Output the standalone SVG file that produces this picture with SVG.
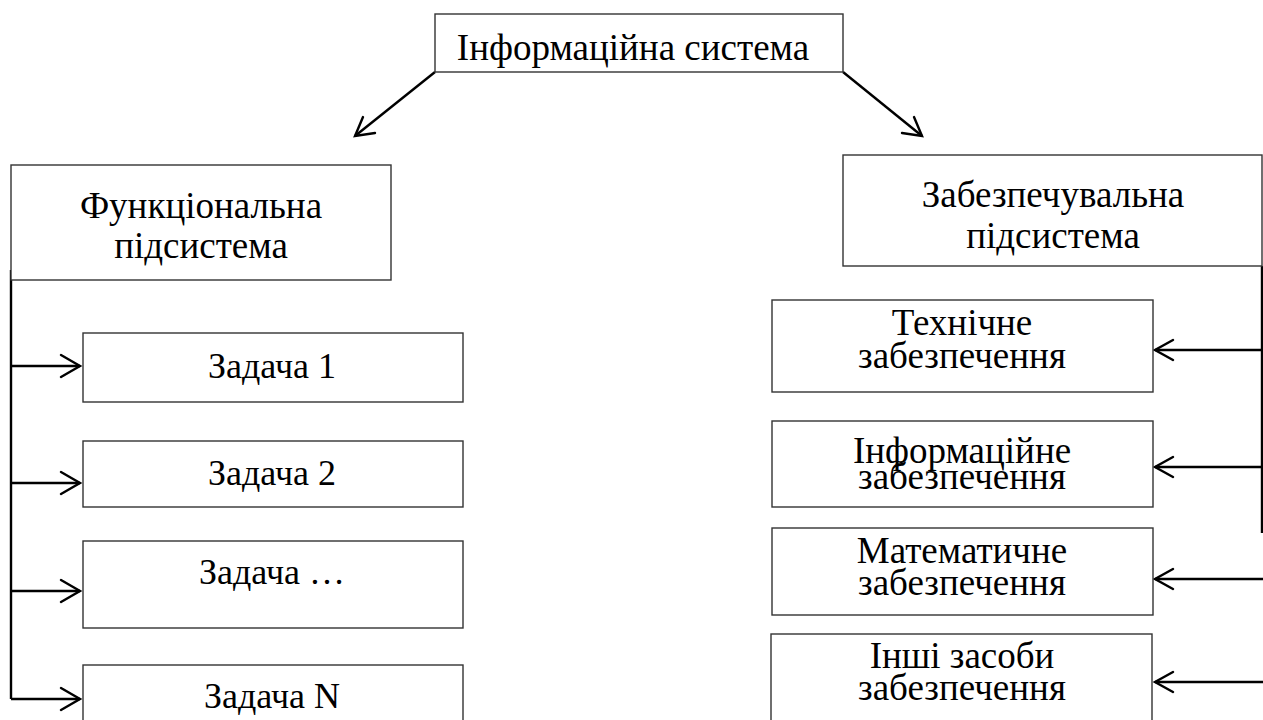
<svg xmlns="http://www.w3.org/2000/svg" width="1263" height="720" viewBox="0 0 1263 720">
<style>
.box{fill:#fff;stroke:#333;stroke-width:1.4}
.t{font-family:"Liberation Serif","Times New Roman",serif;font-size:37px;fill:#000;text-anchor:middle}
.s{font-size:36px}
.c{fill:none;stroke:#000;stroke-width:2.4}
.h{fill:none;stroke:#000;stroke-width:2.4;stroke-linecap:round;stroke-linejoin:miter}
</style>
<rect width="1263" height="720" fill="#fff"/>
<g id="connectors">
<path class="c" d="M435,72 L355,136"/>
<path class="h" d="M363,117 L355,136 L375,133"/>
<path class="c" d="M843,72 L922,136"/>
<path class="h" d="M914,117 L922,136 L902,133"/>
<path class="c" d="M11,270 L11,699"/>
<path class="c" d="M11,366 L80,366 M11,483 L80,483 M11,591 L80,591 M11,699 L80,699"/>
<path class="h" d="M61,355 L80,366 L61,377 M61,472 L80,483 L61,494 M61,580 L80,591 L61,602 M61,688 L80,699 L61,710"/>
<path class="c" d="M1262,266 L1262,533"/>
<path class="c" d="M1263,350 L1155,350 M1263,467 L1155,467 M1263,579 L1155,579 M1263,682 L1155,682"/>
<path class="h" d="M1173,340 L1155,350 L1173,360 M1173,457 L1155,467 L1173,477 M1173,569 L1155,579 L1173,589 M1173,672 L1155,682 L1173,692"/>
</g>
<g id="info-system"><rect class="box" x="435" y="14" width="408" height="58"/><text class="t" x="633" y="60">Інформаційна система</text></g>
<g id="func-subsystem"><rect class="box" x="11" y="165" width="380" height="115"/><text class="t" x="201" y="218">Функціональна</text><text class="t" x="201" y="258">підсистема</text></g>
<g id="supp-subsystem"><rect class="box" x="843" y="155" width="419" height="111"/><text class="t" x="1053" y="207">Забезпечувальна</text><text class="t" x="1053" y="248">підсистема</text></g>
<g id="task1"><rect class="box" x="83" y="333" width="380" height="69"/><text class="t s" x="272" y="378">Задача 1</text></g>
<g id="task2"><rect class="box" x="83" y="441" width="380" height="66"/><text class="t s" x="272" y="485">Задача 2</text></g>
<g id="task-etc"><rect class="box" x="83" y="541" width="380" height="87"/><text class="t s" x="272" y="584">Задача …</text></g>
<g id="taskN"><rect class="box" x="83" y="665" width="380" height="70"/><text class="t s" x="272" y="708">Задача N</text></g>
<g id="tech"><rect class="box" x="772" y="300" width="381" height="92"/><text class="t" x="962" y="335">Технічне</text><text class="t" x="962" y="368">забезпечення</text></g>
<g id="info"><rect class="box" x="772" y="421" width="381" height="86"/><text class="t" x="962" y="463">Інформаційне</text><text class="t" x="962" y="489">забезпечення</text></g>
<g id="math"><rect class="box" x="772" y="528" width="381" height="87"/><text class="t" x="962" y="563">Математичне</text><text class="t" x="962" y="595">забезпечення</text></g>
<g id="other"><rect class="box" x="771" y="634" width="381" height="100"/><text class="t" x="962" y="668">Інші засоби</text><text class="t" x="962" y="700">забезпечення</text></g>
</svg>
